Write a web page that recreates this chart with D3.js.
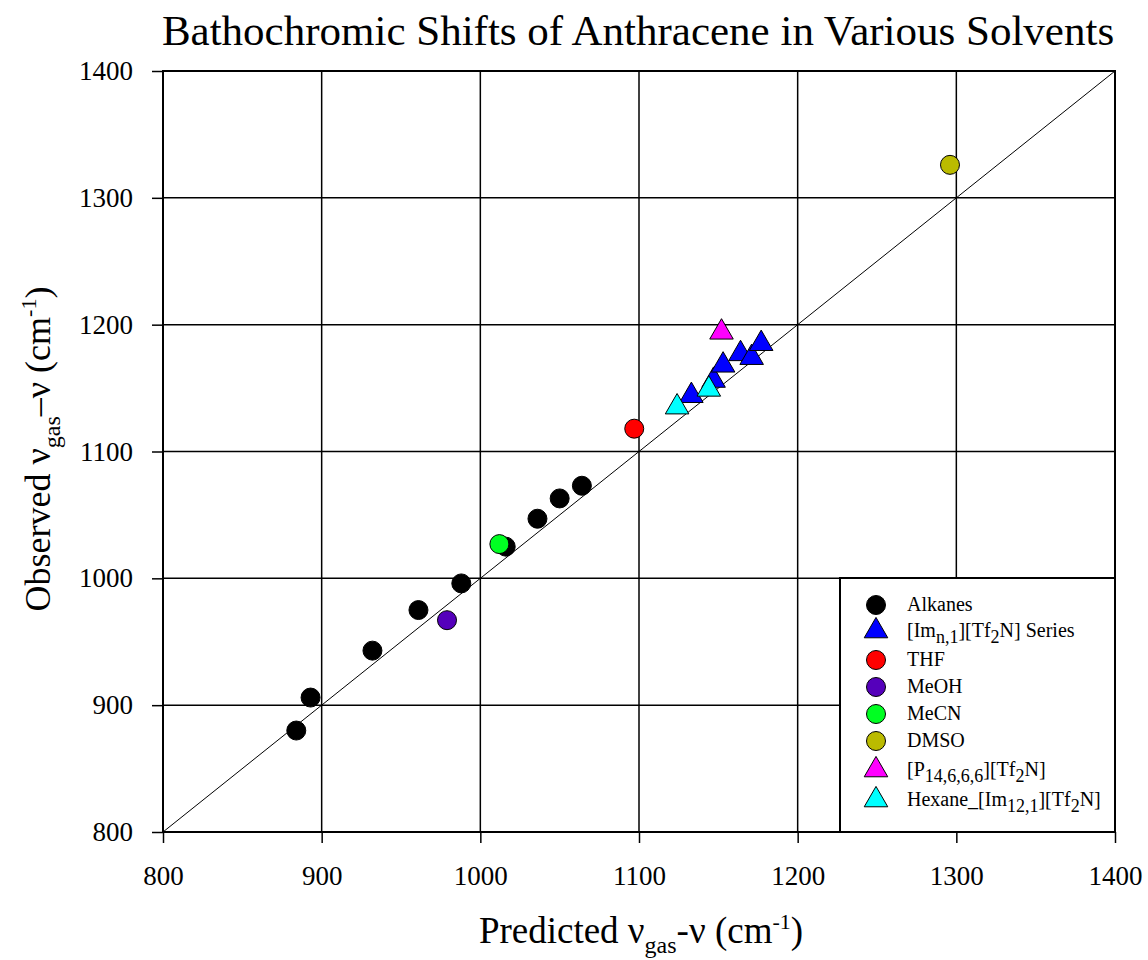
<!DOCTYPE html>
<html><head><meta charset="utf-8">
<script src="https://cdn.jsdelivr.net/npm/d3@7"></script>
<style>body{margin:0;background:#fff}svg{display:block}text{font-family:"Liberation Serif","Times New Roman",serif}</style>
</head><body><svg id="c" width="1148" height="960"></svg>
<script>
const xTicks = [800, 900, 1000, 1100, 1200, 1300, 1400];
const yTicks = [800, 900, 1000, 1100, 1200, 1300, 1400];
const alkanesX = [884, 893, 932, 961, 988, 1016, 1036, 1050, 1064];
const alkanesY = [880, 906, 943, 975, 996, 1025, 1047, 1063, 1073];
const imSeriesX = [1133, 1147, 1153, 1164, 1171, 1177];
const imSeriesY = [1144, 1156, 1168, 1177, 1174, 1185];
const thfX = [1097], thfY = [1118];
const meohX = [979], meohY = [967];
const mecnX = [1012], mecnY = [1027];
const dmsoX = [1296], dmsoY = [1326];
const p14X = [1152], p14Y = [1194];
const hexImX = [1124, 1144], hexImY = [1135, 1149];

const series = [
  {name: "Alkanes", shape: "circle", color: "#000000", x: alkanesX, y: alkanesY},
  {name: "Im", shape: "triangle", color: "#0000ff", x: imSeriesX, y: imSeriesY},
  {name: "THF", shape: "circle", color: "#ff0000", x: thfX, y: thfY},
  {name: "MeOH", shape: "circle", color: "#5500bb", x: meohX, y: meohY},
  {name: "MeCN", shape: "circle", color: "#00ff22", x: mecnX, y: mecnY},
  {name: "DMSO", shape: "circle", color: "#bbbb00", x: dmsoX, y: dmsoY},
  {name: "P14", shape: "triangle", color: "#ff00ff", x: p14X, y: p14Y},
  {name: "HexIm", shape: "triangle", color: "#00ffff", x: hexImX, y: hexImY}
];
const legendLabels = [
  [["Alkanes",0]],
  [["[Im",0],["n,1",1],["][Tf",0],["2",1],["N] Series",0]],
  [["THF",0]],
  [["MeOH",0]],
  [["MeCN",0]],
  [["DMSO",0]],
  [["[P",0],["14,6,6,6",1],["][Tf",0],["2",1],["N]",0]],
  [["Hexane_[Im",0],["12,1",1],["][Tf",0],["2",1],["N]",0]]
];

const svg = d3.select("#c");
const L = 163, R = 1115, T = 71, B = 832;
const x = d3.scaleLinear().domain([800, 1400]).range([L, R]);
const y = d3.scaleLinear().domain([800, 1400]).range([B, T]);

// gridlines
const g = svg.append("g");
g.selectAll(".vx").data(xTicks).join("line")
  .attr("x1", d => x(d)).attr("x2", d => x(d)).attr("y1", T).attr("y2", B)
  .attr("stroke", "#000").attr("stroke-width", 1.5);
g.selectAll(".hy").data(yTicks).join("line")
  .attr("y1", d => y(d)).attr("y2", d => y(d)).attr("x1", L).attr("x2", R)
  .attr("stroke", "#000").attr("stroke-width", 1.5);

// axes
const xAxis = d3.axisBottom(x).tickValues(xTicks).tickSize(11).tickPadding(23).tickFormat(d3.format("d"));
const yAxis = d3.axisLeft(y).tickValues(yTicks).tickSize(11).tickPadding(19).tickFormat(d3.format("d"));
const ax = svg.append("g").attr("transform", `translate(0,${B})`).call(xAxis);
const ay = svg.append("g").attr("transform", `translate(${L},0)`).call(yAxis);
[ax, ay].forEach(a => {
  a.attr("font-size", null).attr("font-family", null);
  a.select(".domain").remove();
  a.selectAll(".tick line").attr("stroke", "#000").attr("stroke-width", 1.5);
  a.selectAll(".tick text").style("font-size", "27px").attr("fill", "#000")
    .style("font-family", "'Liberation Serif', serif");
});

// frame
svg.append("rect").attr("x", L).attr("y", T).attr("width", R - L).attr("height", B - T)
  .attr("fill", "none").attr("stroke", "#000").attr("stroke-width", 2);

// diagonal y = x
svg.append("line").attr("x1", x(800)).attr("y1", y(800)).attr("x2", x(1400)).attr("y2", y(1400))
  .attr("stroke", "#000").attr("stroke-width", 1);

function drawMarker(sel, shape, color) {
  if (shape === "circle") {
    sel.append("circle").attr("r", 9.5).attr("fill", color).attr("stroke", "#000").attr("stroke-width", 1);
  } else {
    sel.append("path").attr("d", d3.symbol(d3.symbolTriangle, 240)()).attr("fill", color)
      .attr("stroke", "#000").attr("stroke-width", 1);
  }
}

const drawOrder = [0, 2, 3, 4, 5, 1, 6, 7];
drawOrder.forEach(i => {
  const s = series[i];
  s.x.forEach((xv, j) => {
    const m = svg.append("g").attr("transform", `translate(${x(xv)},${y(s.y[j])})`);
    drawMarker(m, s.shape, s.color);
  });
});

// legend
const lg = svg.append("g");
lg.append("rect").attr("x", 840).attr("y", 578).attr("width", R - 840).attr("height", B - 578)
  .attr("fill", "#fff").attr("stroke", "#000").attr("stroke-width", 2);
const rowY = [605, 631, 660, 687, 714, 741, 770, 800];
series.forEach((s, i) => {
  const m = lg.append("g").attr("transform", `translate(876,${rowY[i]})`);
  drawMarker(m, s.shape, s.color);
  const t = lg.append("text").attr("x", 907).attr("y", rowY[i] + 6).attr("font-size", 20).attr("fill", "#000");
  legendLabels[i].forEach(([txt, sub], k) => {
    const prev = k > 0 ? legendLabels[i][k - 1][1] : 0;
    let dy = 0;
    if (sub && !prev) dy = 6; else if (!sub && prev) dy = -6;
    t.append("tspan").attr("dy", dy).attr("font-size", sub ? 18 : 20).text(txt);
  });
});

// title
svg.append("text").attr("x", 638).attr("y", 45).attr("text-anchor", "middle")
  .attr("font-size", 43).attr("fill", "#000").text("Bathochromic Shifts of Anthracene in Various Solvents");

// x label
const xl = svg.append("text").attr("x", 641).attr("y", 943).attr("text-anchor", "middle")
  .attr("font-size", 37).attr("fill", "#000");
xl.append("tspan").text("Predicted ν");
xl.append("tspan").attr("font-size", 24).attr("dy", 10).text("gas");
xl.append("tspan").attr("dy", -10).text("-ν (cm");
xl.append("tspan").attr("font-size", 22).attr("dy", -14).text("-1");
xl.append("tspan").attr("dy", 14).text(")");

// y label
const yl = svg.append("text").attr("transform", "translate(50,449) rotate(-90)").attr("text-anchor", "middle")
  .attr("font-size", 36).attr("fill", "#000");
yl.append("tspan").text("Observed ν");
yl.append("tspan").attr("font-size", 24).attr("dy", 10).text("gas");
yl.append("tspan").attr("dy", -10).text("–ν (cm");
yl.append("tspan").attr("font-size", 22).attr("dy", -14).text("-1");
yl.append("tspan").attr("dy", 14).text(")");
</script></body></html>
